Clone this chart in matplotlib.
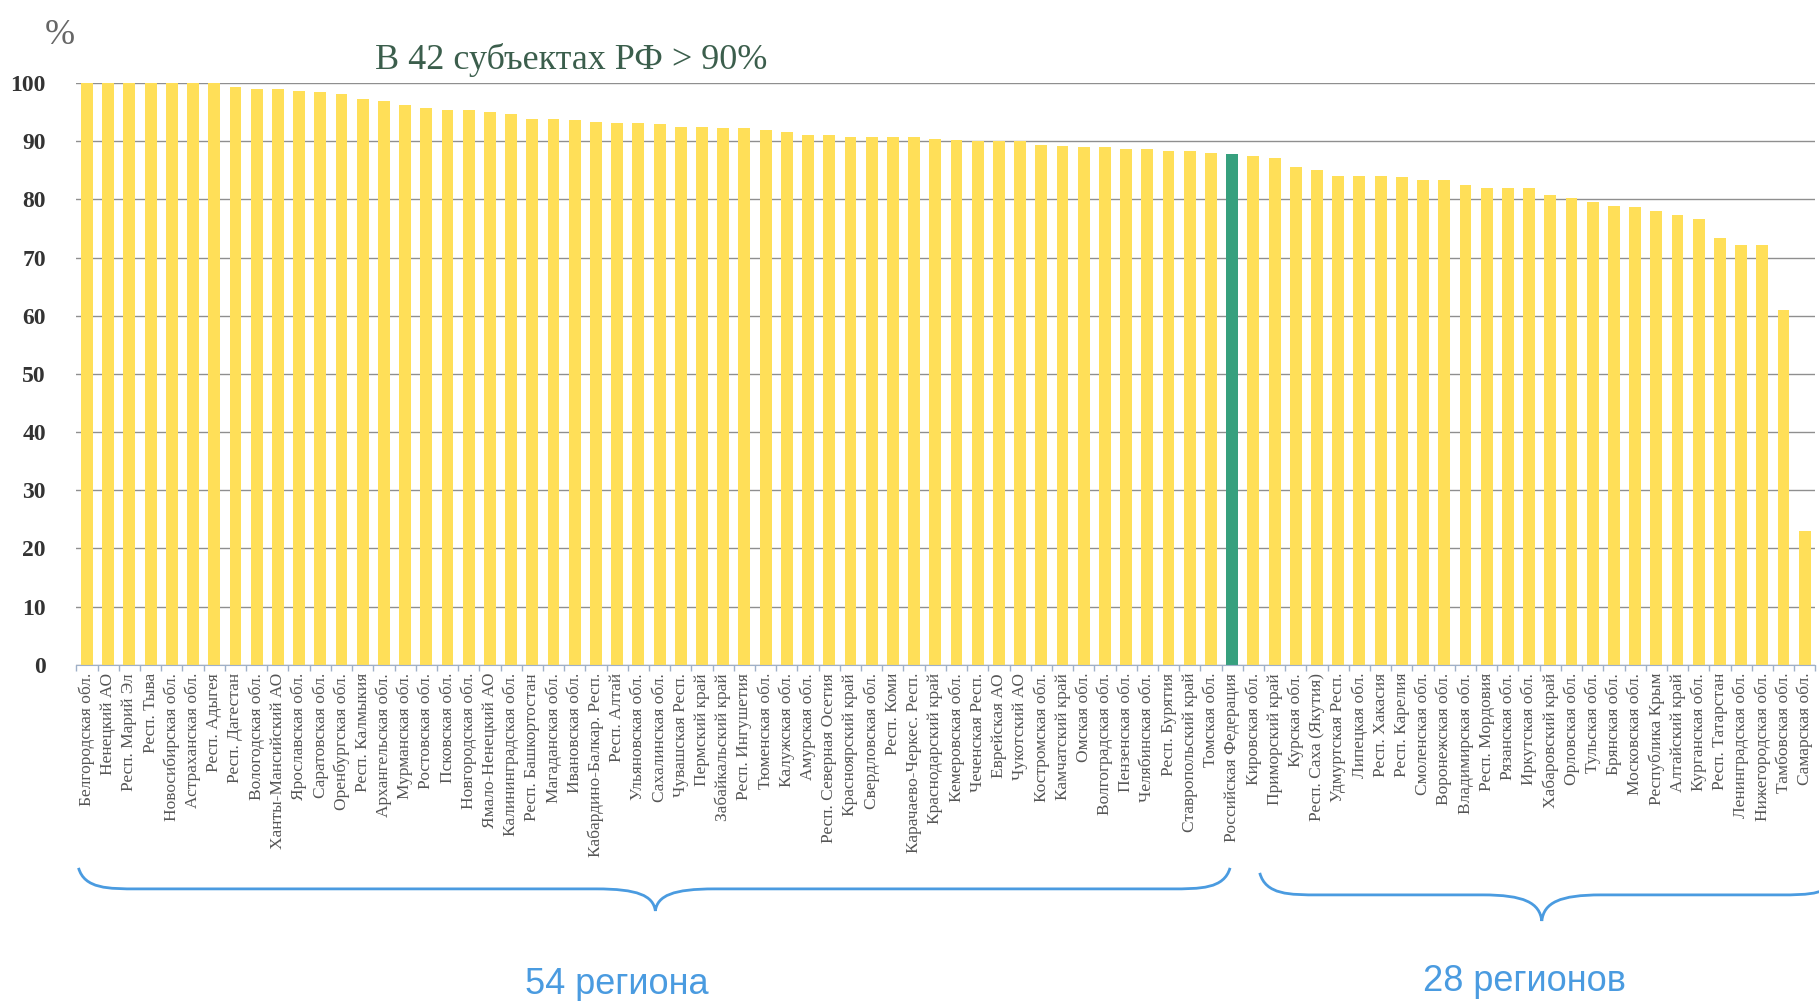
import matplotlib.pyplot as plt
import matplotlib.transforms as mtransforms
from matplotlib.path import Path
from matplotlib.patches import PathPatch
import numpy as np

# regions, sorted by value, Russian Federation as reference bar
regions = [
    "Белгородская обл.", "Ненецкий АО", "Респ. Марий Эл", "Респ. Тыва",
    "Новосибирская обл.", "Астраханская обл.", "Респ. Адыгея", "Респ. Дагестан",
    "Вологодская обл.", "Ханты-Мансийский АО", "Ярославская обл.", "Саратовская обл.",
    "Оренбургская обл.", "Респ. Калмыкия", "Архангельская обл.", "Мурманская обл.",
    "Ростовская обл.", "Псковская обл.", "Новгородская обл.", "Ямало-Ненецкий АО",
    "Калининградская обл.", "Респ. Башкортостан", "Магаданская обл.", "Ивановская обл.",
    "Кабардино-Балкар. Респ.", "Респ. Алтай", "Ульяновская обл.", "Сахалинская обл.",
    "Чувашская Респ.", "Пермский край", "Забайкальский край", "Респ. Ингушетия",
    "Тюменская обл.", "Калужская обл.", "Амурская обл.", "Респ. Северная Осетия",
    "Красноярский край", "Свердловская обл.", "Респ. Коми", "Карачаево-Черкес. Респ.",
    "Краснодарский край", "Кемеровская обл.", "Чеченская Респ.", "Еврейская АО",
    "Чукотский АО", "Костромская обл.", "Камчатский край", "Омская обл.",
    "Волгоградская обл.", "Пензенская обл.", "Челябинская обл.", "Респ. Бурятия",
    "Ставропольский край", "Томская обл.", "Российская Федерация", "Кировская обл.",
    "Приморский край", "Курская обл.", "Респ. Саха (Якутия)", "Удмуртская Респ.",
    "Липецкая обл.", "Респ. Хакасия", "Респ. Карелия", "Смоленская обл.",
    "Воронежская обл.", "Владимирская обл.", "Респ. Мордовия", "Рязанская обл.",
    "Иркутская обл.", "Хабаровский край", "Орловская обл.", "Тульская обл.",
    "Брянская обл.", "Московская обл.", "Республика Крым", "Алтайский край",
    "Курганская обл.", "Респ. Татарстан", "Ленинградская обл.", "Нижегородская обл.",
    "Тамбовская обл.", "Самарская обл.",
]

values = [
    100.0, 100.0, 100.0, 100.0, 100.0, 100.0, 100.0, 99.3,
    98.9, 98.9, 98.6, 98.4, 98.1, 97.3, 97.0, 96.3,
    95.7, 95.4, 95.4, 95.0, 94.6, 93.8, 93.8, 93.7,
    93.3, 93.2, 93.1, 93.0, 92.5, 92.4, 92.2, 92.2,
    92.0, 91.6, 91.1, 91.0, 90.8, 90.7, 90.7, 90.7,
    90.4, 90.2, 90.1, 90.1, 90.0, 89.4, 89.1, 89.0,
    89.0, 88.7, 88.6, 88.4, 88.3, 88.0, 87.8, 87.4,
    87.2, 85.6, 85.1, 84.1, 84.0, 84.0, 83.9, 83.4,
    83.3, 82.4, 82.0, 81.9, 81.9, 80.8, 80.2, 79.5,
    78.8, 78.7, 78.0, 77.3, 76.7, 73.4, 72.1, 72.1,
    61.0, 22.9,
]

highlight = "Российская Федерация"
yticks = [0, 10, 20, 30, 40, 50, 60, 70, 80, 90, 100]

yellow = "#ffdf58"
green = "#36a07e"
blue = "#4a9be0"

fig = plt.figure(figsize=(18.19, 10.01), dpi=100)
ax = fig.add_axes([0.042, 0.336, 0.956, 0.581])

x = np.arange(len(regions))
colors = [green if r == highlight else yellow for r in regions]
ax.bar(x, values, width=0.56, color=colors, zorder=2)

ax.set_xlim(-0.5, len(regions) - 0.5)
ax.set_ylim(0, 100)
ax.set_yticks(yticks)
ax.set_yticklabels([str(t) for t in yticks], family="Liberation Serif",
                   fontsize=17, fontweight="bold", color="#333333")
ax.set_xticks(x)
ax.set_xticklabels(regions, rotation=90, family="Liberation Serif",
                   fontsize=12.5, color="#555555")
ax.set_xticks(np.arange(len(regions) + 1) - 0.5, minor=True)
ax.tick_params(axis="x", which="major", length=0, pad=6)
ax.tick_params(axis="x", which="minor", length=4, color="#9fb0c8", width=1)
ax.tick_params(axis="y", length=0, pad=22)

ax.grid(axis="y", color="#8f8f8f", linewidth=1, zorder=1)
for s in ["top", "right", "left"]:
    ax.spines[s].set_visible(False)
ax.spines["bottom"].set_color("#9fb0c8")
ax.spines["bottom"].set_zorder(3)

fig.text(0.033, 0.965, "%", family="Liberation Serif", fontsize=26,
         color="#666666", ha="center", va="center")
fig.text(0.314, 0.940, "В 42 субъектах РФ > 90%", family="Liberation Serif",
         fontsize=26, color="#3b5e4c", ha="center", va="center")

# curly braces under the labels
trans = mtransforms.blended_transform_factory(ax.transData, fig.transFigure)


def brace(x0, x1, xtip, y_end, y_body, y_tip, d=1.4):
    verts = [
        (x0, y_end), (x0 + 0.2 * d, y_body), (x0 + d, y_body), (x0 + 2 * d, y_body),
        (xtip - 2 * d, y_body),
        (xtip - 0.6 * d, y_body), (xtip - 0.1, y_body - 0.3 * (y_body - y_tip)), (xtip, y_tip),
        (xtip + 0.1, y_body - 0.3 * (y_body - y_tip)), (xtip + 0.6 * d, y_body), (xtip + 2 * d, y_body),
        (x1 - 2 * d, y_body),
        (x1 - d, y_body), (x1 - 0.2 * d, y_body), (x1, y_end),
    ]
    codes = [Path.MOVETO, Path.CURVE4, Path.CURVE4, Path.CURVE4,
             Path.LINETO,
             Path.CURVE4, Path.CURVE4, Path.CURVE4,
             Path.CURVE4, Path.CURVE4, Path.CURVE4,
             Path.LINETO,
             Path.CURVE4, Path.CURVE4, Path.CURVE4]
    patch = PathPatch(Path(verts, codes), facecolor="none", edgecolor=blue,
                      linewidth=2, transform=trans, clip_on=False)
    ax.add_patch(patch)


brace(-0.4, 53.9, 26.8, 0.133, 0.112, 0.090)
brace(55.3, 82.6, 68.6, 0.128, 0.106, 0.080)

ax.text(25.0, 0.016, "54 региона", transform=trans, family="Liberation Sans",
        fontsize=26, color=blue, ha="center", va="center")
ax.text(67.8, 0.019, "28 регионов", transform=trans, family="Liberation Sans",
        fontsize=26, color=blue, ha="center", va="center")

fig.savefig("out.png", dpi=100, facecolor="white")
